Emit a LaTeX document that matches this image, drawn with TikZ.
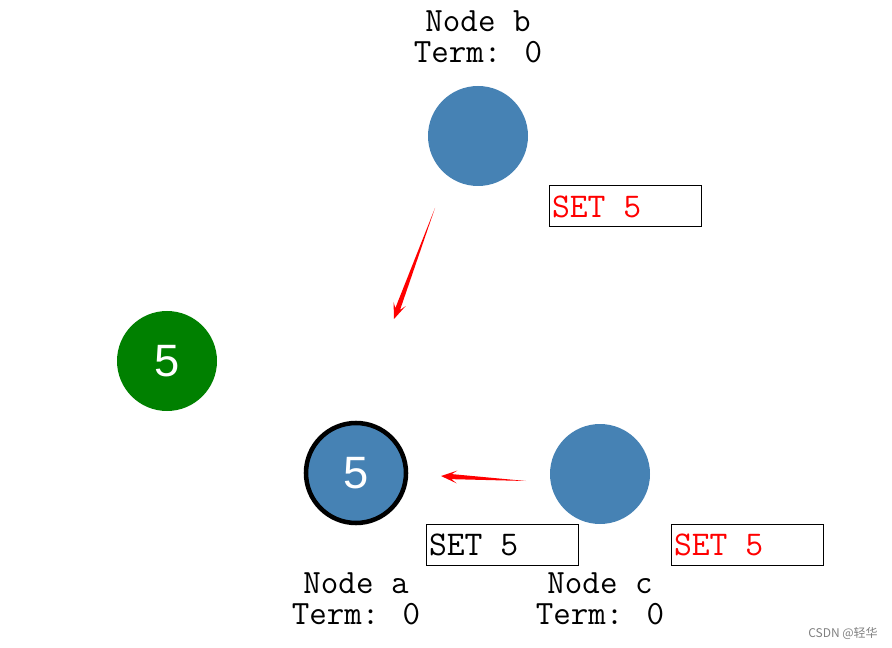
\documentclass[tikz,border=0pt]{standalone}
\usepackage{fontspec}
\newfontfamily\arialfont{Liberation Sans}
\newfontfamily\cjkfont{Noto Sans CJK SC}
\usetikzlibrary{calc}
\definecolor{steel}{RGB}{70,130,180}
\definecolor{darkgreen}{RGB}{0,128,0}
\newcommand{\logentry}[1]{\makebox[109.5pt][l]{#1}}
% tapered red message arrow from #1 to #2
\newcommand{\taperarrow}[2]{%
    \fill[red] (#1) -- ($(#2)!8pt!(#1)!1.9pt!90:(#2)$) -- ($(#2)!12pt!(#1)!4.8pt!90:(#2)$)
        -- (#2) -- ($(#2)!12pt!(#1)!4.8pt!-90:(#2)$) -- ($(#2)!8pt!(#1)!1.9pt!-90:(#2)$) -- cycle;}
\tikzset{
    raftnode/.style={circle, fill=steel, minimum size=75pt, inner sep=0pt,
        text=white, font=\arialfont\fontsize{34}{34}\selectfont},
    nodelabel/.style={align=center, font=\ttfamily\fontsize{25.5}{23}\selectfont},
    setbox/.style={draw, line width=0.75pt, minimum width=114pt, minimum height=30.75pt,
        inner xsep=2.25pt, font=\ttfamily\fontsize{26}{26}\selectfont}
}
\begin{document}
\begin{tikzpicture}[x=0.75pt, y=-0.75pt]
            \useasboundingbox (0,0) rectangle (892,648);

            % Nodes
            \node[raftnode] (b) at (478,136) {};
            \node[raftnode, fill=darkgreen] (leader) at (167,361) {5};
            \node[raftnode, draw=black, line width=3.4pt] (a) at (356,473) {5};
            \node[raftnode] (c) at (600,474) {};

            % Labels
            \node[nodelabel] (blabel) at (478,37) {Node b\\Term: 0};
            \node[nodelabel] (alabel) at (356,599) {Node a\\Term: 0};
            \node[nodelabel] (clabel) at (600,599) {Node c\\Term: 0};

            % Log entries
            \node[setbox, text=red] (blog) at (625,206.5) {\logentry{SET 5}};
            \node[setbox] (alog) at (502,545) {\logentry{SET 5}};
            \node[setbox, text=red] (clog) at (747,545) {\logentry{SET 5}};

            % Messages
            \coordinate (bTail) at (435,208);
            \coordinate (bHead) at (394,319);
            \coordinate (cTail) at (526,481);
            \coordinate (cHead) at (441,476);
            \taperarrow{bTail}{bHead}
            \taperarrow{cTail}{cHead}

            \node[gray, font=\cjkfont\fontsize{9}{9}\selectfont] (mark) at (843,633) {CSDN @轻华};
        \end{tikzpicture}
\end{document}
